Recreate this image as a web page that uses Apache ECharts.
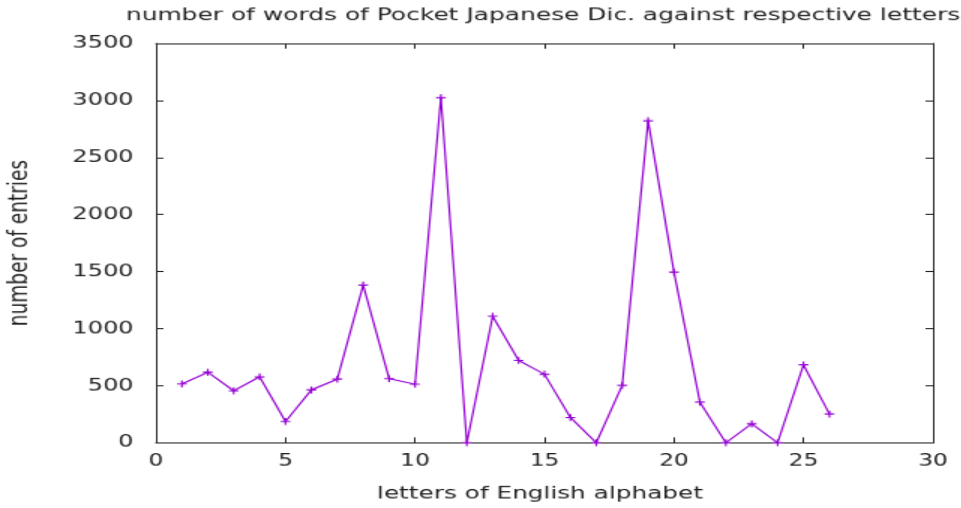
<!DOCTYPE html>
<html>
<head>
<meta charset="utf-8">
<script src="https://cdn.jsdelivr.net/npm/echarts@6/dist/echarts.min.js"></script>
<style>
html, body { margin: 0; padding: 0; background: #fff; overflow: hidden; }
#wrap { width: 961px; height: 508px; overflow: hidden; }
#chart { width: 640.67px; height: 480px; transform: scale(1.5, 1.05833); transform-origin: 0 0; }
</style>
</head>
<body>
<div id="wrap"><div id="chart"></div></div>
<script>
const titleText = 'number of words of Pocket Japanese Dic. against respective letters';
const xName = 'letters of English alphabet';
const yName = 'number of entries';
const letterIndex = [1, 2, 3, 4, 5, 6, 7, 8, 9, 10, 11, 12, 13, 14, 15, 16, 17, 18, 19, 20, 21, 22, 23, 24, 25, 26];
const entries = [515, 618, 455, 577, 186, 463, 558, 1382, 562, 513, 3024, 0, 1109, 722, 600, 221, 0, 502, 2822, 1495, 356, 0, 166, 0, 683, 252];
const xTicks = [0, 5, 10, 15, 20, 25, 30];
const yTicks = [0, 500, 1000, 1500, 2000, 2500, 3000, 3500];

const font = 'DejaVu Sans';
const ink = '#222';
const purple = '#9400d3';
const plus = 'path://M4.1,0H5.9V4.1H10V5.9H5.9V10H4.1V5.9H0V4.1H4.1Z';

const chart = echarts.init(document.getElementById('chart'));
const axisCommon = {
  axisLine: { show: true, onZero: false, lineStyle: { color: ink, width: 1 } },
  axisTick: { show: true, inside: true, length: 5, lineStyle: { color: ink, width: 1 } },
  splitLine: { show: false }
};
chart.setOption({
  animation: false,
  backgroundColor: '#fff',
  title: {
    text: titleText,
    left: 357,
    top: 1,
    textAlign: 'center',
    textStyle: { fontFamily: font, fontSize: 16.6, fontWeight: 'normal', color: ink }
  },
  grid: { left: 104, right: 19, top: 41, bottom: 61.7, containLabel: false, outerBoundsMode: 'none' },
  xAxis: [
    Object.assign({
      type: 'value', position: 'bottom',
      min: xTicks[0], max: xTicks[xTicks.length - 1], interval: xTicks[1] - xTicks[0],
      name: xName, nameLocation: 'middle', nameGap: 40,
      nameTextStyle: { fontFamily: font, fontSize: 16.5, color: ink, padding: [0, 6, 0, 0] },
      axisLabel: { fontFamily: font, fontSize: 15.5, color: ink, margin: 10 }
    }, axisCommon),
    Object.assign({
      type: 'value', position: 'top',
      min: xTicks[0], max: xTicks[xTicks.length - 1], interval: xTicks[1] - xTicks[0],
      axisLabel: { show: false }
    }, axisCommon)
  ],
  yAxis: [
    Object.assign({
      type: 'value', position: 'left',
      min: yTicks[0], max: yTicks[yTicks.length - 1], interval: yTicks[1] - yTicks[0],
      name: yName, nameLocation: 'middle', nameGap: 82, nameRotate: 90,
      nameTextStyle: { fontFamily: font, fontSize: 17.5, color: ink },
      axisLabel: { fontFamily: font, fontSize: 16, color: ink, margin: 15, formatter: v => String(v) }
    }, axisCommon),
    Object.assign({
      type: 'value', position: 'right',
      min: yTicks[0], max: yTicks[yTicks.length - 1], interval: yTicks[1] - yTicks[0],
      axisLabel: { show: false }
    }, axisCommon)
  ],
  series: [{
    type: 'line',
    xAxisIndex: 0,
    yAxisIndex: 0,
    data: letterIndex.map((x, i) => [x, entries[i]]),
    lineStyle: { color: purple, width: 1.2 },
    itemStyle: { color: purple },
    symbol: plus,
    symbolSize: 6.5,
    showSymbol: true,
    clip: false
  }]
});
</script>
</body>
</html>
